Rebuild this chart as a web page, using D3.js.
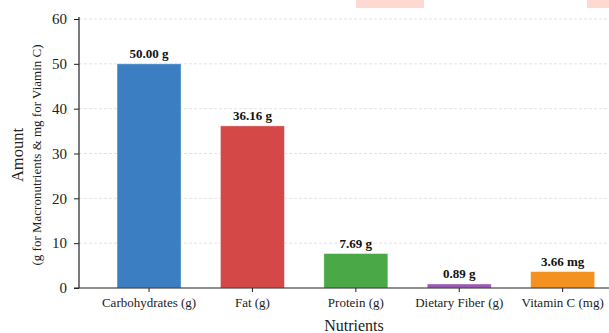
<!DOCTYPE html>
<html>
<head>
<meta charset="utf-8">
<script src="https://cdn.jsdelivr.net/npm/d3@7"></script>
<style>
  html, body { margin: 0; padding: 0; background: #ffffff; }
  svg { display: block; font-family: "Liberation Serif", "DejaVu Serif", serif; }
</style>
</head>
<body>
<svg id="chart" width="609" height="333"></svg>
<script>
// Nutrient amounts per serving
const categories = ["Carbohydrates (g)", "Fat (g)", "Protein (g)", "Dietary Fiber (g)", "Vitamin C (mg)"];
const values = [50.00, 36.16, 7.69, 0.89, 3.66];
const units = ["g", "g", "g", "g", "mg"];
const colors = ["#3b7fc2", "#d44848", "#4ba846", "#9b59b6", "#f39121"];
const yTicks = [0, 10, 20, 30, 40, 50, 60];

const svg = d3.select("#chart");
const W = 609, H = 333;
const plotLeft = 79, plotTop = 19, plotBottom = 288;
const serif = "Liberation Serif, serif";

// faint header strips
svg.append("rect").attr("x", 356).attr("y", 0).attr("width", 68).attr("height", 8).attr("fill", "#fdd9d1");
svg.append("rect").attr("x", 587).attr("y", 0).attr("width", 22).attr("height", 8).attr("fill", "#fdd9d1");

const y = d3.scaleLinear().domain([0, 60]).range([plotBottom, plotTop]);
const x = d3.scaleBand().domain(categories).range([97.4, 614.3]).paddingInner(0.381).paddingOuter(0.19);

// horizontal grid
svg.append("g").selectAll("line").data(yTicks.filter(d => d > 0)).join("line")
  .attr("x1", plotLeft).attr("x2", W)
  .attr("y1", d => y(d)).attr("y2", d => y(d))
  .attr("stroke", "#dcdcdc").attr("stroke-width", 0.8).attr("stroke-dasharray", "3,2");

// bars
svg.append("g").selectAll("rect").data(categories).join("rect")
  .attr("x", d => x(d)).attr("width", x.bandwidth())
  .attr("y", (d, i) => y(values[i])).attr("height", (d, i) => y(0) - y(values[i]))
  .attr("fill", (d, i) => colors[i])
  .attr("stroke", "#ffffff").attr("stroke-opacity", 0.5).attr("stroke-width", 0.8);

// value labels
svg.append("g").selectAll("text").data(categories).join("text")
  .attr("x", d => x(d) + x.bandwidth() / 2)
  .attr("y", (d, i) => y(values[i]) - 6)
  .attr("text-anchor", "middle")
  .attr("font-size", 13).attr("font-weight", "bold").attr("fill", "#111")
  .text((d, i) => values[i].toFixed(2) + " " + units[i]);

// y axis
const yAxis = svg.append("g").attr("transform", `translate(${plotLeft},0)`)
  .call(d3.axisLeft(y).tickValues(yTicks).tickSize(5).tickPadding(7));
yAxis.select(".domain").remove();
yAxis.selectAll("line").attr("stroke", "#222");
yAxis.selectAll("text").attr("font-size", 15).attr("fill", "#222").attr("font-family", serif);
svg.append("line").attr("x1", plotLeft).attr("x2", plotLeft).attr("y1", plotTop - 2).attr("y2", plotBottom)
  .attr("stroke", "#222").attr("stroke-width", 1.2);

// x axis
const xAxis = svg.append("g").attr("transform", `translate(0,${plotBottom})`)
  .call(d3.axisBottom(x).tickSize(4).tickPadding(6));
xAxis.select(".domain").remove();
xAxis.selectAll("line").attr("stroke", "#222");
xAxis.selectAll("text").attr("font-size", 13).attr("fill", "#222").attr("font-family", serif);
svg.append("line").attr("x1", plotLeft - 5).attr("x2", W).attr("y1", plotBottom).attr("y2", plotBottom)
  .attr("stroke", "#222").attr("stroke-width", 1.2);

// axis titles
svg.append("text").attr("x", 354).attr("y", 331).attr("text-anchor", "middle")
  .attr("font-size", 16).attr("fill", "#222").text("Nutrients");
svg.append("text").attr("transform", "translate(23,155) rotate(-90)").attr("text-anchor", "middle")
  .attr("font-size", 16.5).attr("fill", "#222").text("Amount");
svg.append("text").attr("transform", "translate(41,155) rotate(-90)").attr("text-anchor", "middle")
  .attr("font-size", 13).attr("fill", "#222").text("(g for Macronutrients & mg for Viamin C)");
</script>
</body>
</html>
